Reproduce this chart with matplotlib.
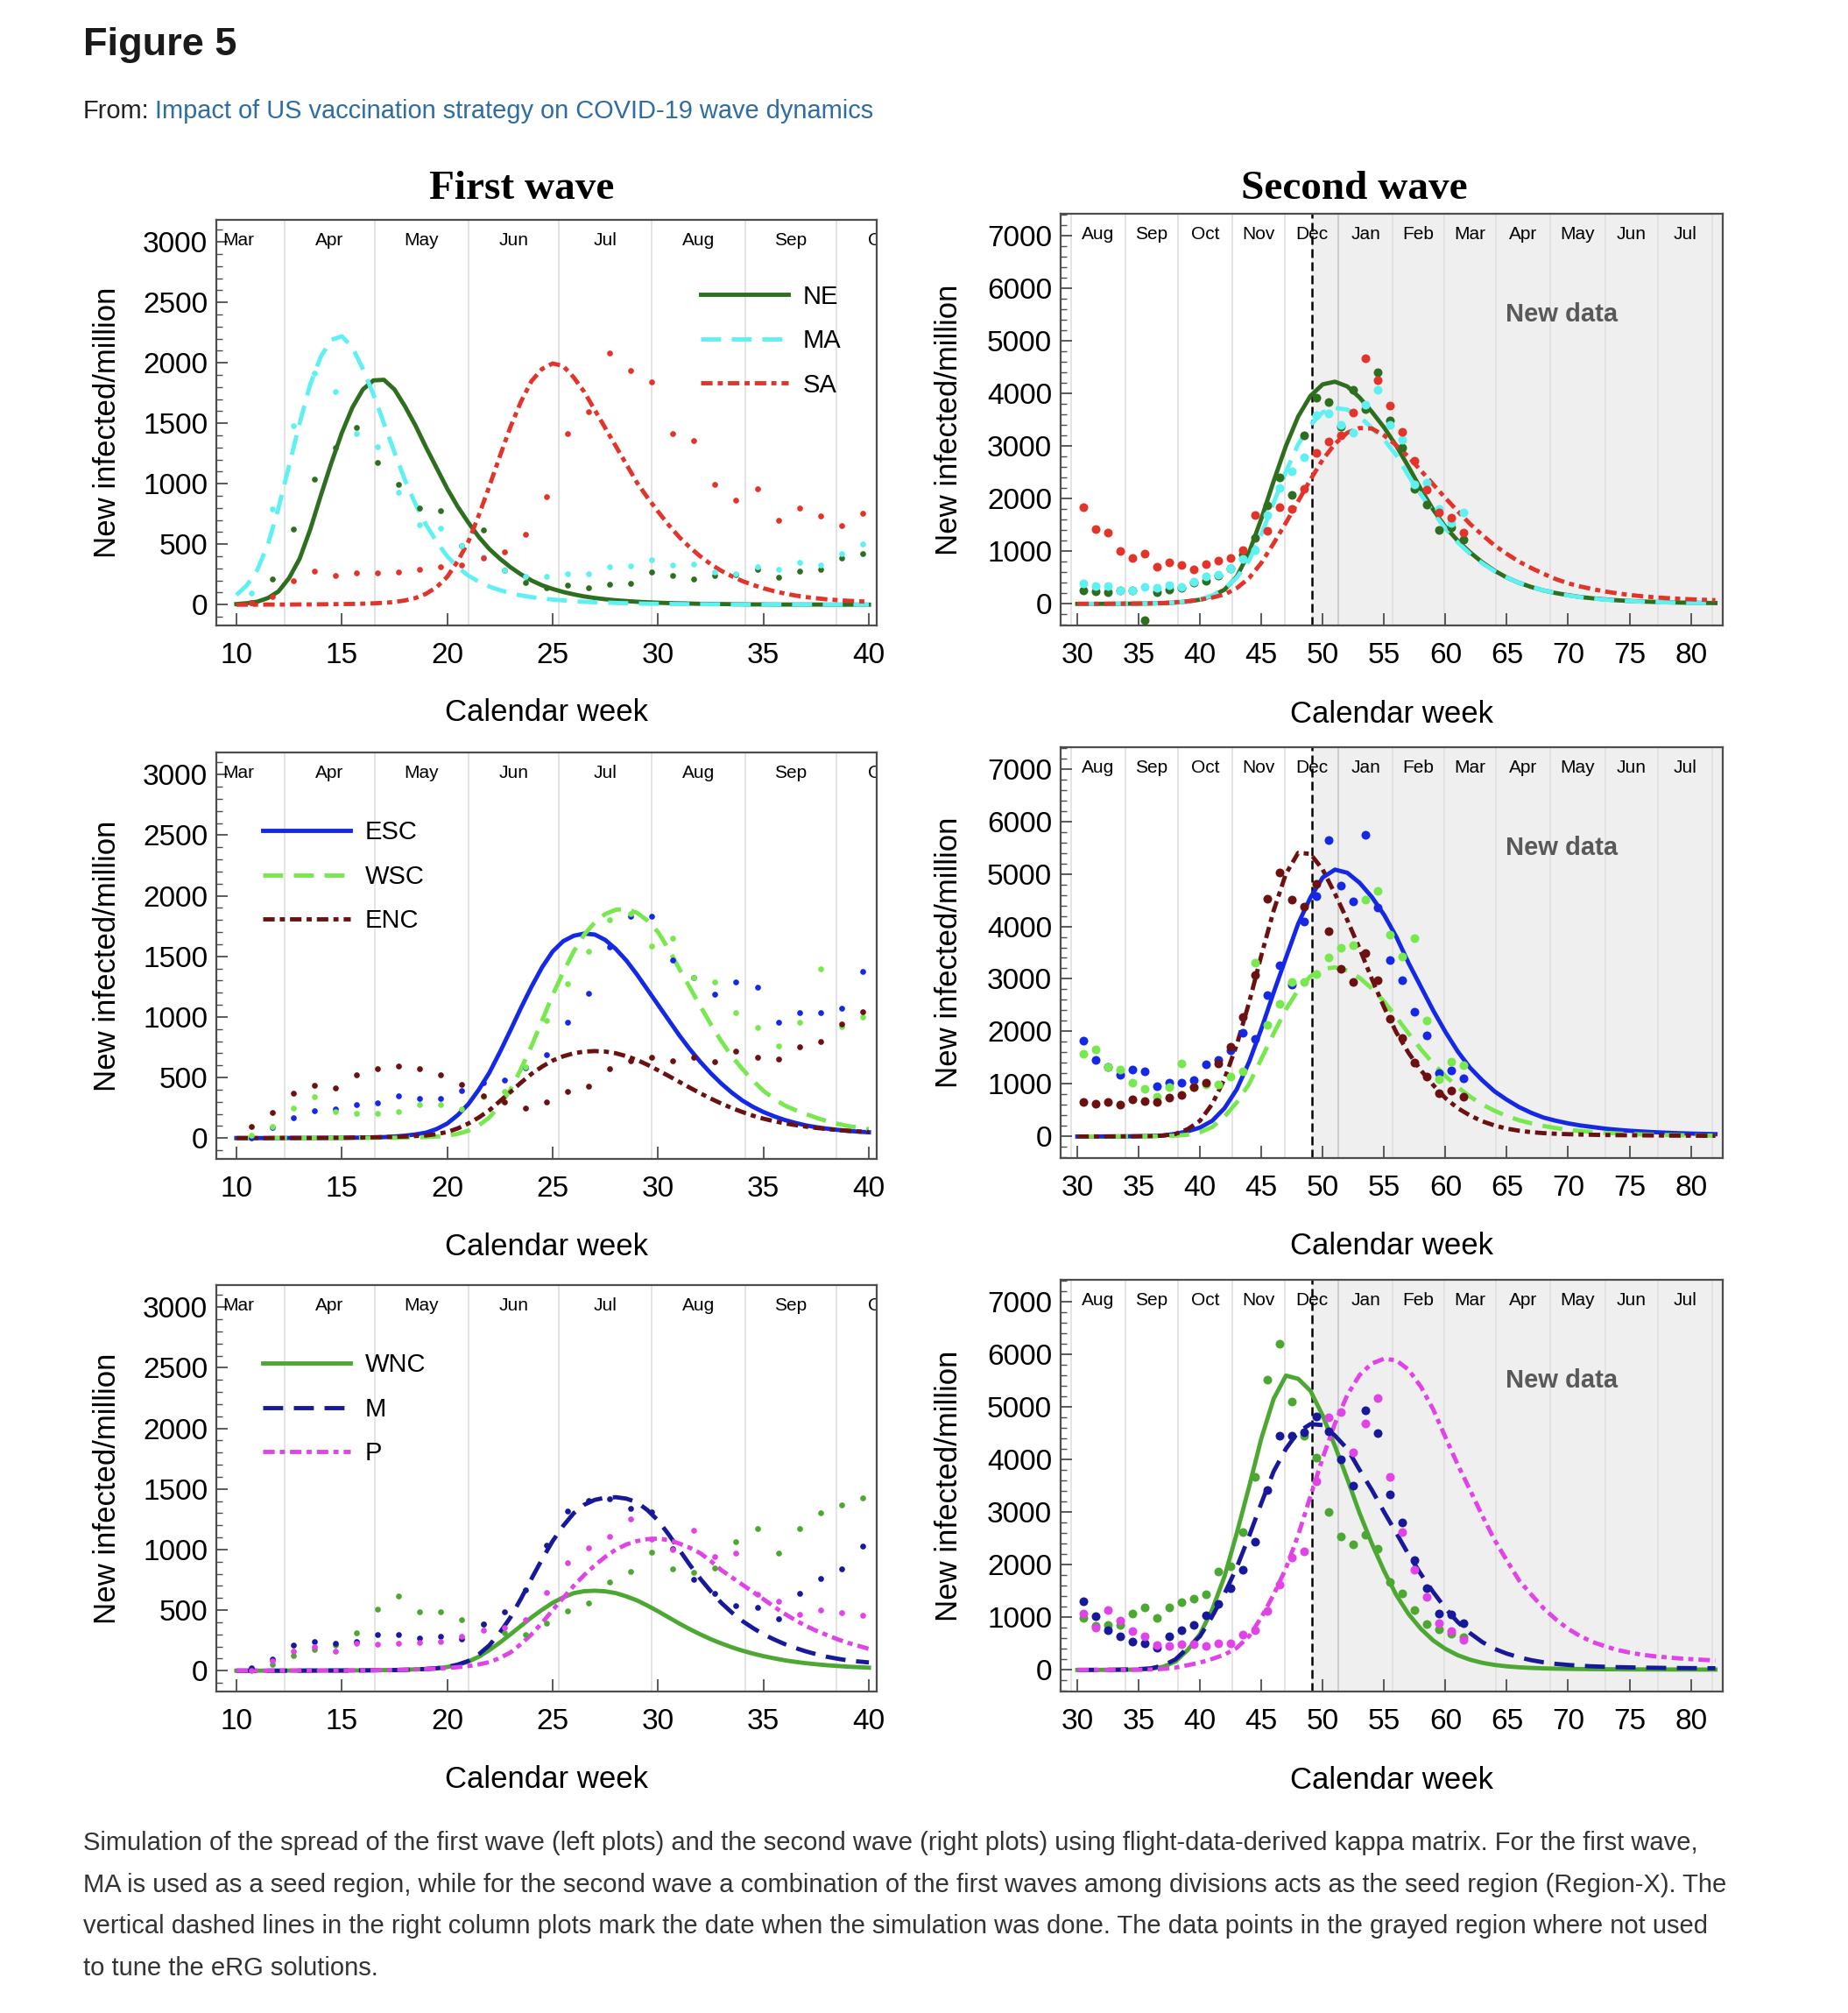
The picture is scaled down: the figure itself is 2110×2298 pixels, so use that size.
import numpy as np
import matplotlib
matplotlib.use('Agg')
import matplotlib.pyplot as plt
from matplotlib.ticker import MultipleLocator
from matplotlib.lines import Line2D

plt.rcParams['font.family'] = ['Liberation Sans', 'DejaVu Sans']

# ---------------- data ----------------
curve_weeks_1 = np.arange(10, 40.01, 0.5)  # first wave model curves (half weeks)
curve_weeks_2 = np.arange(30, 83)          # second wave model curves
dot_weeks_1 = np.arange(10, 40) + 0.7      # first wave weekly data
dot_weeks_2 = np.arange(30, 62) + 0.5      # second wave weekly data

months_1 = ['Mar', 'Apr', 'May', 'Jun', 'Jul', 'Aug', 'Sep', 'Oct']
month_starts_1 = [7.9, 12.3, 16.56, 21.0, 25.3, 29.7, 34.15, 38.45, 42.8]
months_2 = ['Aug', 'Sep', 'Oct', 'Nov', 'Dec', 'Jan', 'Feb', 'Mar', 'Apr',
            'May', 'Jun', 'Jul', 'Aug']
month_starts_2 = [29.47, 33.9, 38.2, 42.6, 46.9, 51.3, 55.7, 59.9, 64.1,
                  68.55, 73.0, 77.3, 81.75, 86.1]
sim_date = 49.1

# first wave curves (weeks 10 .. 40 in steps of 0.5)
ne_1 = [5, 12, 25, 55, 110, 220, 380, 620, 900, 1170, 1420, 1630, 1780, 1855, 1860, 1780,
        1640, 1480, 1300, 1130, 960, 810, 680, 560, 460, 380, 310, 250, 200, 160, 130, 105,
        85, 68, 55, 45, 36, 30, 24, 20, 16, 13, 11, 9, 7, 6, 5, 4, 3, 2, 2, 1, 1, 1, 1, 1,
        0, 0, 0, 0, 0]
ma_1 = [80, 160, 290, 500, 800, 1150, 1500, 1820, 2050, 2190, 2220, 2130, 1950, 1740, 1500,
        1260, 1030, 830, 660, 520, 400, 310, 240, 190, 150, 120, 95, 77, 62, 51, 42, 35, 29,
        24, 20, 17, 14, 12, 10, 8, 7, 6, 5, 4, 4, 3, 3, 2, 2, 2, 1, 1, 1, 1, 1, 1, 0, 0, 0,
        0, 0]
sa_1 = [0, 0, 0, 1, 1, 1, 2, 2, 3, 4, 5, 6, 8, 11, 15, 22, 35, 55, 90, 145, 230, 360, 520,
        740, 980, 1230, 1470, 1680, 1850, 1950, 1995, 1975, 1880, 1760, 1610, 1460, 1310,
        1160, 1010, 885, 770, 660, 560, 475, 400, 335, 280, 235, 195, 163, 135, 112, 92, 76,
        63, 53, 44, 38, 32, 28, 24]
esc_1 = [0, 0, 0, 0, 0, 1, 1, 1, 1, 2, 2, 3, 4, 6, 8, 13, 20, 30, 45, 75, 120, 190, 280, 400,
         540, 710, 890, 1075, 1250, 1410, 1540, 1625, 1670, 1688, 1680, 1635, 1560, 1465,
         1350, 1225, 1100, 975, 850, 735, 630, 535, 450, 375, 310, 258, 215, 180, 150, 126,
         105, 90, 78, 68, 60, 53, 48]
wsc_1 = [0, 0, 0, 0, 0, 0, 0, 0, 0, 1, 1, 1, 1, 2, 2, 3, 4, 6, 8, 13, 20, 35, 60, 105, 170,
         270, 400, 570, 760, 970, 1180, 1370, 1540, 1680, 1780, 1850, 1885, 1890, 1860, 1795,
         1700, 1560, 1400, 1245, 1090, 940, 800, 675, 570, 475, 390, 325, 270, 232, 200, 168,
         140, 118, 100, 86, 75]
enc_1 = [0, 0, 0, 0, 1, 1, 1, 1, 2, 2, 3, 4, 5, 6, 8, 10, 13, 17, 22, 33, 50, 80, 120, 170,
         230, 305, 380, 458, 530, 590, 640, 675, 700, 714, 718, 714, 700, 676, 645, 605, 560,
         513, 465, 417, 370, 326, 285, 248, 215, 185, 160, 140, 122, 108, 95, 84, 75, 67, 60,
         55, 50]
wnc_1 = [0, 0, 0, 0, 0, 1, 1, 1, 1, 2, 2, 2, 3, 4, 5, 6, 8, 11, 14, 20, 30, 48, 75, 115, 170,
         232, 300, 370, 440, 503, 560, 605, 640, 656, 660, 655, 640, 613, 580, 537, 490, 440,
         390, 343, 300, 260, 225, 193, 165, 141, 120, 102, 86, 73, 62, 53, 45, 39, 33, 29, 25]
m_1 = [0, 0, 0, 0, 0, 0, 0, 1, 1, 1, 1, 2, 2, 3, 4, 5, 7, 10, 14, 20, 30, 50, 80, 135, 210,
       315, 440, 595, 760, 920, 1070, 1195, 1300, 1370, 1410, 1428, 1432, 1420, 1390, 1325,
       1240, 1125, 1000, 875, 760, 655, 560, 480, 410, 352, 300, 258, 220, 188, 160, 136, 115,
       99, 85, 76, 68]
p_1 = [0, 0, 0, 0, 0, 1, 1, 1, 1, 2, 2, 2, 3, 4, 5, 6, 8, 10, 13, 17, 22, 29, 38, 52, 70,
       105, 150, 220, 300, 395, 500, 600, 700, 790, 870, 940, 1000, 1042, 1070, 1086, 1090,
       1078, 1050, 1015, 970, 905, 830, 770, 710, 650, 590, 528, 470, 418, 370, 330, 295, 260,
       230, 205, 180]

# first wave data points
ne_1_data = [20, 212, 626, 1040, 1298, 1469, 1174, 998, 796, 776, 490, 620, 284, 186, 142,
             160, 142, 168, 176, 269, 238, 212, 238, 246, 290, 228, 280, 292, 388, 422]
ma_1_data = [98, 791, 1479, 1913, 1764, 1417, 1303, 926, 659, 634, 486, 396, 284, 233, 233,
             253, 259, 315, 323, 372, 328, 334, 269, 259, 310, 295, 347, 326, 422, 499]
sa_1_data = [13, 65, 197, 277, 243, 266, 264, 269, 290, 315, 331, 383, 440, 582, 892, 1417,
             1596, 2084, 1934, 1841, 1415, 1355, 996, 866, 957, 698, 802, 737, 654, 758]
esc_1_data = [5, 90, 170, 227, 240, 274, 292, 349, 330, 330, 395, 454, 480, 583, 692, 958,
              1195, 1580, 1833, 1828, 1467, 1325, 1188, 1291, 1247, 958, 1033, 1033, 1074, 1376]
wsc_1_data = [21, 93, 248, 343, 222, 207, 201, 222, 274, 279, 240, 343, 382, 589, 971, 1273,
              1544, 1802, 1854, 1583, 1652, 1325, 1291, 1033, 911, 762, 955, 1394, 919, 997]
enc_1_data = [98, 214, 367, 434, 413, 524, 571, 594, 576, 519, 442, 351, 300, 248, 297, 382,
              429, 576, 640, 666, 640, 666, 627, 718, 666, 653, 757, 795, 942, 1041]
wnc_1_data = [15, 52, 128, 173, 210, 310, 508, 614, 483, 483, 423, 386, 310, 295, 395, 492,
              556, 730, 821, 979, 842, 812, 848, 1064, 1176, 973, 1176, 1301, 1365, 1429]
m_1_data = [21, 97, 213, 243, 225, 240, 295, 295, 271, 280, 264, 386, 486, 666, 1037, 1316,
            1404, 1420, 1341, 1310, 1009, 757, 635, 538, 523, 429, 641, 760, 842, 1031]
p_1_data = [0, 82, 158, 195, 164, 225, 219, 225, 234, 243, 286, 337, 356, 423, 644, 894,
            1015, 1107, 1249, 1085, 1000, 1158, 942, 970, 629, 575, 462, 499, 477, 456]

# second wave curves (weeks 30 .. 82)
ne_2 = [0, 0, 1, 2, 3, 5, 8, 14, 25, 45, 80, 150, 270, 520, 980, 1620, 2330, 3000, 3560, 3950,
        4170, 4220, 4130, 3920, 3650, 3350, 3000, 2600, 2180, 1790, 1460, 1200, 980, 790, 630,
        500, 400, 320, 255, 205, 165, 130, 105, 85, 68, 55, 45, 37, 30, 25, 21, 18, 15]
ma_2 = [0, 0, 1, 2, 3, 5, 8, 14, 25, 45, 85, 160, 290, 500, 830, 1320, 1920, 2510, 3030, 3400,
        3640, 3720, 3690, 3560, 3340, 3120, 2820, 2430, 2080, 1740, 1430, 1170, 950, 770, 620,
        500, 400, 320, 255, 205, 160, 128, 100, 80, 64, 52, 42, 34, 28, 23, 19, 16, 13]
sa_2 = [0, 1, 1, 2, 4, 6, 10, 17, 30, 50, 80, 120, 180, 300, 490, 780, 1150, 1540, 1950, 2360,
        2740, 3040, 3250, 3340, 3330, 3200, 3010, 2790, 2530, 2270, 2010, 1760, 1520, 1310,
        1110, 950, 800, 680, 570, 470, 390, 330, 280, 235, 200, 170, 145, 125, 110, 97, 87,
        78, 70]
esc_2 = [0, 0, 1, 2, 3, 5, 10, 20, 50, 100, 170, 300, 540, 900, 1420, 2050, 2740, 3400, 4050,
         4550, 4930, 5080, 5020, 4830, 4560, 4220, 3800, 3300, 2850, 2400, 1990, 1620, 1310,
         1070, 860, 700, 560, 450, 360, 300, 250, 210, 180, 150, 128, 110, 95, 83, 72, 63, 56,
         50, 45]
wsc_2 = [0, 0, 0, 1, 1, 2, 4, 8, 15, 35, 80, 180, 380, 650, 1000, 1480, 1960, 2420, 2790, 3050,
         3190, 3220, 3160, 3020, 2820, 2570, 2270, 1960, 1660, 1390, 1150, 940, 760, 610, 490,
         390, 310, 250, 200, 160, 130, 105, 85, 70, 58, 48, 40, 34, 29, 25, 22, 19, 17]
enc_2 = [0, 0, 1, 1, 2, 4, 8, 18, 50, 140, 300, 620, 1100, 1750, 2550, 3450, 4300, 5000, 5400,
         5380, 5080, 4620, 4120, 3580, 3000, 2460, 1980, 1590, 1260, 980, 730, 540, 400, 290,
         210, 150, 110, 82, 64, 52, 44, 38, 33, 29, 26, 24, 22, 20, 18, 17, 16, 15, 14]
wnc_2 = [0, 0, 1, 2, 4, 8, 20, 60, 160, 380, 680, 1150, 1780, 2600, 3480, 4400, 5150, 5590,
         5530, 5300, 4830, 4250, 3630, 2980, 2400, 1880, 1420, 1060, 780, 560, 400, 280, 195,
         135, 95, 68, 50, 38, 30, 24, 20, 17, 15, 13, 12, 11, 10, 9, 9, 8, 8, 7, 7]
m_2 = [0, 1, 2, 4, 8, 15, 30, 85, 200, 420, 640, 1020, 1450, 1950, 2540, 3170, 3770, 4200,
       4520, 4670, 4650, 4450, 4200, 3800, 3420, 3000, 2600, 2190, 1820, 1480, 1170, 910, 700,
       530, 400, 310, 240, 185, 145, 115, 95, 80, 68, 60, 53, 48, 44, 41, 38, 36, 34, 33, 32]
p_2 = [0, 0, 1, 1, 2, 4, 8, 20, 45, 90, 140, 210, 290, 420, 640, 1000, 1430, 1930, 2560, 3300,
       4030, 4680, 5220, 5600, 5820, 5910, 5880, 5700, 5380, 4950, 4420, 3900, 3420, 2930,
       2470, 2080, 1700, 1430, 1170, 960, 780, 640, 530, 450, 380, 330, 290, 260, 240, 220,
       205, 192, 180]

# second wave data points
ne_2_data = [255, 238, 214, 255, 255, -309, 226, 273, 303, 404, 434, 535, 671, 938, 1247, 1877,
             2406, 2067, 3208, 3908, 3837, 3374, 4069, 3700, 4402, 3481, 2970, 2186, 1889,
             1396, 1455, 1224]
ma_2_data = [386, 345, 345, 255, 255, 327, 303, 356, 327, 416, 523, 552, 671, 861, 1028, 1681,
             2198, 2513, 2780, 3582, 3623, 3404, 3255, 3790, 4069, 3404, 3124, 2275, 2305,
             1800, 1533, 1740]
sa_2_data = [1841, 1414, 1354, 998, 867, 950, 701, 790, 743, 653, 760, 820, 879, 1028, 1693,
             1384, 1830, 1800, 2186, 2869, 3077, 3196, 3641, 4669, 4253, 3760, 3267, 2721,
             2174, 1740, 1639, 1354]
esc_2_data = [1818, 1455, 1325, 1176, 1277, 1236, 950, 1028, 1028, 1069, 1372, 1455, 1634,
              1978, 1859, 2691, 3255, 2887, 4099, 4580, 5643, 4770, 4473, 5750, 4366, 3362,
              2970, 2376, 1919, 1206, 1253, 1105]
wsc_2_data = [1574, 1651, 1325, 1277, 1028, 909, 760, 939, 1384, 939, 998, 998, 1146, 1247,
              3303, 2127, 2525, 2940, 2940, 3089, 3404, 3600, 3641, 4514, 4681, 3843, 3421,
              3778, 2216, 1087, 1426, 1354]
enc_2_data = [653, 630, 659, 612, 701, 671, 653, 748, 790, 939, 1028, 1384, 1711, 2275, 3077,
              4520, 5019, 4502, 4372, 4817, 3908, 3196, 2940, 3493, 2976, 2245, 1877, 1414,
              1146, 832, 867, 760]
wnc_2_data = [980, 830, 847, 847, 1071, 1190, 980, 1190, 1295, 1351, 1435, 1862, 1967, 2625,
              3661, 5516, 6202, 5089, 4445, 4025, 2996, 2541, 2387, 2576, 2296, 1666, 1456,
              1141, 875, 770, 686, 616]
m_2_data = [1302, 1022, 756, 637, 532, 511, 427, 637, 756, 847, 1036, 1260, 1547, 1911, 2436,
            3409, 4452, 4452, 4515, 4816, 4536, 3997, 3507, 4935, 4494, 3339, 2807, 2086,
            1561, 1071, 1057, 896]
p_2_data = [1071, 812, 1141, 931, 735, 637, 476, 455, 490, 490, 455, 497, 497, 672, 756, 1120,
            1617, 2135, 2247, 3591, 4802, 4900, 4130, 4676, 5166, 3661, 2611, 1911, 1386, 896,
            735, 567]

# ---------------- styles ----------------
DASH = (0, (4.7, 2.5))
DASHDOT = (0, (2.7, 1.2, 1.2, 1.2))
LW = 3.5

colors = {'NE': '#2d6e1f', 'MA': '#5ff0f2', 'SA': '#e3342b',
          'ESC': '#1428e6', 'WSC': '#77e84d', 'ENC': '#6b1111',
          'WNC': '#4ca832', 'M': '#17199a', 'P': '#e043e6'}

rows = [
    [('NE', ne_1, ne_1_data, '-', ne_2, ne_2_data),
     ('MA', ma_1, ma_1_data, DASH, ma_2, ma_2_data),
     ('SA', sa_1, sa_1_data, DASHDOT, sa_2, sa_2_data)],
    [('ESC', esc_1, esc_1_data, '-', esc_2, esc_2_data),
     ('WSC', wsc_1, wsc_1_data, DASH, wsc_2, wsc_2_data),
     ('ENC', enc_1, enc_1_data, DASHDOT, enc_2, enc_2_data)],
    [('WNC', wnc_1, wnc_1_data, '-', wnc_2, wnc_2_data),
     ('M', m_1, m_1_data, DASH, m_2, m_2_data),
     ('P', p_1, p_1_data, DASHDOT, p_2, p_2_data)],
]
legend_anchor = [(0.733, 0.841), (0.070, 0.833), (0.070, 0.833)]

W, H = 2110, 2298
fig = plt.figure(figsize=(W / 100, H / 100), dpi=100)

# axes boxes in pixels: (left, top, right, bottom)
left_boxes = [(247, 251, 1001, 714), (247, 859, 1001, 1323), (247, 1467, 1001, 1931)]
right_boxes = [(1211, 244, 1967, 714), (1211, 853, 1967, 1322), (1211, 1461, 1967, 1931)]


def box_to_rect(b):
    l, t, r, bt = b
    return [l / W, 1 - bt / H, (r - l) / W, (bt - t) / H]


def style_axes(ax, first):
    for sp in ax.spines.values():
        sp.set_color('#4d4d4d')
        sp.set_linewidth(1.6)
    ax.tick_params(axis='both', which='both', direction='in', color='#4d4d4d',
                   top=False, right=False)
    ax.tick_params(axis='y', which='major', length=9, width=1.3, labelsize=24, pad=7)
    ax.tick_params(axis='y', which='minor', length=5, width=1.0)
    ax.tick_params(axis='x', which='major', length=10, width=1.3, labelsize=24, pad=14)
    if first:
        ax.set_xlim(9.05, 40.37)
        ax.set_ylim(-172, 3183)
        ax.xaxis.set_major_locator(MultipleLocator(5))
        ax.yaxis.set_major_locator(MultipleLocator(500))
        ax.yaxis.set_minor_locator(MultipleLocator(100))
        starts, names = month_starts_1, months_1
    else:
        ax.set_xlim(28.64, 82.6)
        ax.set_ylim(-410, 7410)
        ax.xaxis.set_major_locator(MultipleLocator(5))
        ax.yaxis.set_major_locator(MultipleLocator(1000))
        ax.yaxis.set_minor_locator(MultipleLocator(200))
        starts, names = month_starts_2, months_2
        ax.axvspan(sim_date, 90, color='#efefef', zorder=0, lw=0)
        ax.axvline(sim_date, color='black', lw=1.8, ls=(0, (4, 2)), zorder=1.5)
        ax.text(69.45, 5500, 'New data', ha='center', va='center', fontsize=21,
                weight='bold', color='#595959', zorder=1)
    for i, s in enumerate(starts):
        c = '#c4c4c4' if names[min(i, len(names) - 1)] == 'Jan' and not first else '#dddddd'
        ax.axvline(s, color=c, lw=1.1, zorder=0.5)
    for i, name in enumerate(names):
        ax.text((starts[i] + starts[i + 1]) / 2, 0.949, name, transform=ax.get_xaxis_transform(),
                ha='center', va='center', fontsize=15, clip_on=True, zorder=2)
    ax.set_ylabel('New infected/million', fontsize=25)
    ax.set_xlabel('Calendar week', fontsize=25)
    ax.xaxis.set_label_coords(0.5, -0.18)
    ax.yaxis.set_label_coords(-0.143 if first else -0.147, 0.5)


for r in range(3):
    axl = fig.add_axes(box_to_rect(left_boxes[r]))
    axr = fig.add_axes(box_to_rect(right_boxes[r]))
    style_axes(axl, True)
    style_axes(axr, False)
    handles = []
    for name, c1, d1, ls, c2, d2 in rows[r]:
        col = colors[name]
        axl.plot(curve_weeks_1, c1, color=col, lw=LW, ls=ls, zorder=3)
        axr.plot(curve_weeks_2, c2, color=col, lw=LW, ls=ls, zorder=3)
        handles.append(Line2D([], [], color=col, lw=LW, ls=ls, label=name))
    for name, c1, d1, ls, c2, d2 in rows[r]:
        col = colors[name]
        axl.plot(dot_weeks_1, d1, 'o', color=col, ms=4.8, mec='none', zorder=4)
        axr.plot(dot_weeks_2, d2, 'o', color=col, ms=7.2, mec='none', zorder=4)
    axl.legend(handles=handles, loc='upper left', bbox_to_anchor=legend_anchor[r],
               frameon=False, fontsize=21, handlelength=3.45, handletextpad=0.55,
               labelspacing=0.77, borderpad=0, borderaxespad=0)

# ---------------- page texts ----------------
fig.text(95 / W, 1 - 63 / H, 'Figure 5', fontsize=32.5, weight='bold', color='#1a1a1a',
         va='baseline')
fig.text(95 / W, 1 - 135 / H, 'From:', fontsize=20.9, color='#222222', va='baseline')
fig.text(177 / W, 1 - 135 / H, 'Impact of US vaccination strategy on COVID-19 wave dynamics',
         fontsize=20.9, color='#2e6ca4', va='baseline')

fig.text(596 / W, 1 - 227 / H, 'First wave', family=['Liberation Serif', 'DejaVu Serif'],
         weight='bold', fontsize=34, ha='center', va='baseline')
fig.text(1546 / W, 1 - 227 / H, 'Second wave', family=['Liberation Serif', 'DejaVu Serif'],
         weight='bold', fontsize=34, ha='center', va='baseline')

caption = [
    'Simulation of the spread of the first wave (left plots) and the second wave (right plots) '
    'using flight-data-derived kappa matrix. For the first wave,',
    'MA is used as a seed region, while for the second wave a combination of the first waves '
    'among divisions acts as the seed region (Region-X). The',
    'vertical dashed lines in the right column plots mark the date when the simulation was done. '
    'The data points in the grayed region where not used',
    'to tune the eRG solutions.',
]
for i, line in enumerate(caption):
    fig.text(95 / W, 1 - (2112 + 47.7 * i) / H, line, fontsize=21, color='#333333',
             va='baseline')

fig.savefig('out.png', dpi=100, facecolor='white')
